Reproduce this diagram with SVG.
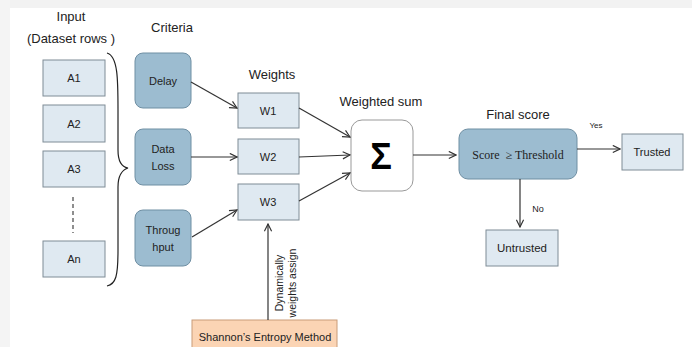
<svg xmlns="http://www.w3.org/2000/svg" width="692" height="347" viewBox="0 0 692 347">
<defs>
<marker id="ah" viewBox="0 0 10 10" refX="9" refY="5" markerWidth="9" markerHeight="9" markerUnits="userSpaceOnUse" orient="auto">
<path d="M1,1 L9,5 L1,9" fill="none" stroke="#333" stroke-width="1.3"/>
</marker>
<style>
text{font-family:"Liberation Sans",Arial,sans-serif;fill:#222;text-anchor:middle}
.lb{font-size:11px}
.hd{font-size:13px}
.in{fill:#dfe9f1;stroke:#7f8c96;stroke-width:1}
.cr{fill:#9cbcd0;stroke:#6f8fa3;stroke-width:1}
.cn line,.cn path{stroke:#333;stroke-width:1.2;fill:none}
.ar{marker-end:url(#ah)}
</style>
</defs>
<rect width="692" height="347" fill="#ffffff"/>
<rect x="0" y="0" width="692" height="8" fill="#f2f2f2"/>
<rect x="0" y="0" width="10" height="347" fill="#f4f4f4"/>

<text class="hd" x="71" y="21">Input</text>
<text class="hd" x="71" y="43">(Dataset rows )</text>
<text class="hd" x="172" y="32">Criteria</text>
<text class="hd" x="272" y="79">Weights</text>
<text class="hd" x="381" y="106">Weighted sum</text>
<text class="hd" x="518" y="119">Final score</text>

<g id="A1"><rect class="in" x="43" y="60" width="62" height="36"/><text class="lb" x="74" y="82">A1</text></g>
<g id="A2"><rect class="in" x="43" y="105" width="62" height="37"/><text class="lb" x="74" y="128">A2</text></g>
<g id="A3"><rect class="in" x="43" y="151" width="62" height="36"/><text class="lb" x="74" y="173">A3</text></g>
<g id="dots"><line x1="73" y1="197" x2="73" y2="233" stroke="#444" stroke-width="1.2" stroke-dasharray="4,3"/></g>
<g id="An"><rect class="in" x="43" y="241" width="62" height="36"/><text class="lb" x="74" y="263">An</text></g>

<g id="brace"><path d="M107,53 C118,56 118,80 118,110 L118,150 C118,162 122,167 128,168 C122,170 118,175 118,187 L118,250 C118,276 116,284 107,286" fill="none" stroke="#222" stroke-width="1.2"/></g>

<g id="Delay"><rect class="cr" x="135" y="53" width="56" height="55" rx="8"/><text class="lb" x="163" y="85">Delay</text></g>
<g id="DataLoss"><rect class="cr" x="135" y="129" width="56" height="56" rx="8"/><text class="lb" x="163" y="153">Data</text><text class="lb" x="163" y="170">Loss</text></g>
<g id="Throughput"><rect class="cr" x="135" y="210" width="56" height="56" rx="8"/><text class="lb" x="163" y="234">Throug</text><text class="lb" x="163" y="251">hput</text></g>

<g id="W1"><rect class="in" x="238" y="93" width="61" height="35"/><text class="lb" x="268" y="115">W1</text></g>
<g id="W2"><rect class="in" x="238" y="139" width="61" height="35"/><text class="lb" x="268" y="161">W2</text></g>
<g id="W3"><rect class="in" x="238" y="184" width="61" height="36"/><text class="lb" x="268" y="206">W3</text></g>

<g id="Sum"><rect x="351" y="120" width="62" height="71" rx="11" fill="#ffffff" stroke="#999" stroke-width="1"/><text x="381" y="169" style="font-size:36px;font-weight:bold;fill:#000">Σ</text></g>

<g id="Final"><rect class="cr" x="459" y="129" width="118" height="50" rx="9"/><text x="518" y="159" xml:space="preserve" style="font-family:'Liberation Serif','Times New Roman',serif;font-size:12px">Score  ≥ Threshold</text></g>

<g id="Trusted"><rect class="in" x="622" y="134" width="61" height="36"/><text class="lb" x="652" y="156">Trusted</text></g>
<g id="Untrusted"><rect class="in" x="486" y="230" width="72" height="36"/><text class="lb" x="522" y="252" style="font-size:11.5px">Untrusted</text></g>

<g id="Shannon"><rect x="192" y="320" width="145" height="32" fill="#fbd4b4" stroke="#c99c78" stroke-width="1"/><text class="lb" x="265" y="341">Shannon’s Entropy Method</text></g>

<g id="connectors" class="cn">
<line class="ar" x1="191" y1="82" x2="237" y2="108"/>
<line class="ar" x1="191" y1="157" x2="237" y2="157"/>
<line class="ar" x1="192" y1="237" x2="237" y2="210"/>
<line class="ar" x1="299" y1="108" x2="350" y2="137"/>
<line class="ar" x1="299" y1="157" x2="350" y2="155"/>
<line class="ar" x1="299" y1="201" x2="350" y2="173"/>
<line class="ar" x1="413" y1="155" x2="456" y2="155"/>
<line class="ar" x1="577" y1="149" x2="620" y2="149"/>
<line class="ar" x1="520" y1="179" x2="520" y2="227"/>
<line class="ar" x1="268" y1="320" x2="268" y2="224"/>
</g>

<text x="596" y="128" style="font-size:8px">Yes</text>
<text x="538" y="212" style="font-size:9px">No</text>
<text class="lb" transform="translate(283,283) rotate(-90)" style="font-size:10.5px">Dynamically</text>
<text class="lb" transform="translate(296,283) rotate(-90)" style="font-size:10.5px">weights  assign</text>
</svg>
